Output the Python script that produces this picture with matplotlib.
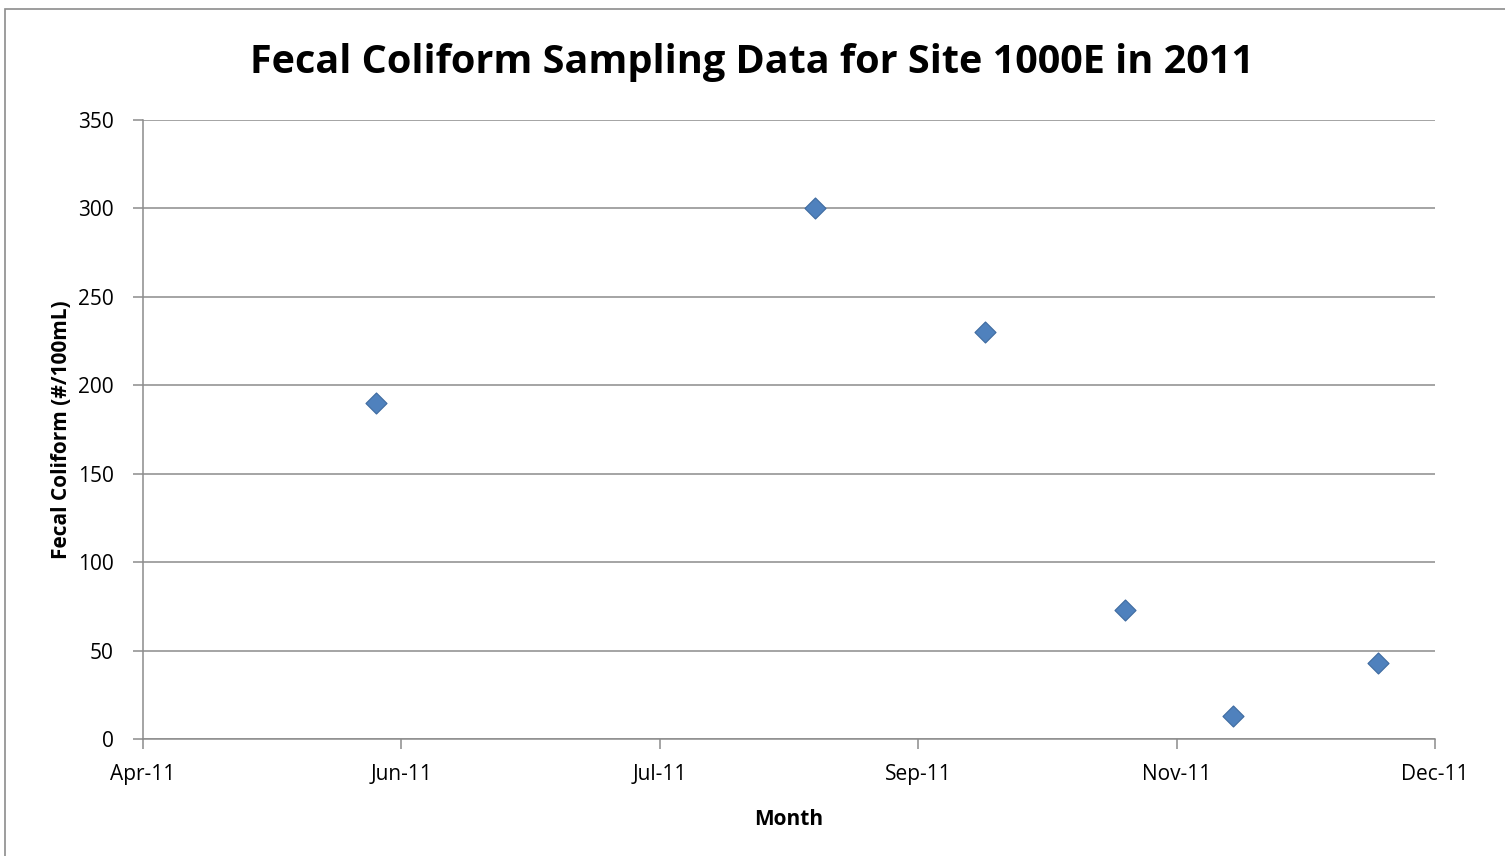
# Fecal coliform sampling chart, Excel-style scatter

import datetime as dt
import matplotlib
matplotlib.use('Agg')
import matplotlib.pyplot as plt
import matplotlib.dates as mdates
from matplotlib.patches import Rectangle

sample_dates = ['2011-06-01', '2011-08-25', '2011-09-27',
                '2011-10-24', '2011-11-14', '2011-12-12']
fecal_coliform = [190, 300, 230, 73, 13, 43]

x_start = dt.date(2011, 4, 17)
tick_step_days = 50
n_steps = 5

plt.rcParams['font.family'] = ['Open Sans', 'DejaVu Sans']

dates = [dt.datetime.strptime(d, '%Y-%m-%d').date() for d in sample_dates]
x_end = x_start + dt.timedelta(days=tick_step_days * n_steps)

fig = plt.figure(figsize=(15.05, 8.56), dpi=100)
ax = fig.add_axes([0.095, 0.1367, 0.8585, 0.7231])

# chart border
fig.patches.append(Rectangle((0.003, -0.01), 1.2, 1.0, transform=fig.transFigure,
                             fill=False, edgecolor='#8c8c8c', linewidth=1.2))

ax.scatter(dates, fecal_coliform, marker='D', s=115, color='#4F81BD',
           edgecolors='#3e6aa0', linewidths=0.8, zorder=3)

ticks = [x_start + dt.timedelta(days=tick_step_days * i) for i in range(n_steps + 1)]
ax.set_xlim(x_start, x_end)
ax.set_xticks(ticks)
ax.xaxis.set_major_formatter(mdates.DateFormatter('%b-%y'))
ax.set_ylim(0, 350)
ax.set_yticks(range(0, 351, 50))

ax.yaxis.grid(True, color='#8c8c8c', linewidth=1.1)
ax.set_axisbelow(True)
for side in ['top', 'right']:
    ax.spines[side].set_visible(False)
for side in ['left', 'bottom']:
    ax.spines[side].set_color('#8c8c8c')
    ax.spines[side].set_linewidth(1.1)
ax.tick_params(axis='both', colors='#8c8c8c', length=7, width=1.1,
               labelcolor='black', labelsize=15)
ax.tick_params(axis='x', pad=11)
ax.tick_params(axis='y', pad=14)

fig.suptitle('Fecal Coliform Sampling Data for Site 1000E in 2011',
             x=0.5, y=0.95, fontsize=28.5, fontweight='bold')
ax.set_xlabel('Month', fontsize=15, fontweight='bold', labelpad=17)
ax.set_ylabel('Fecal Coliform (#/100mL)', fontsize=15, fontweight='bold', labelpad=4)

fig.savefig('out.png', dpi=100)
